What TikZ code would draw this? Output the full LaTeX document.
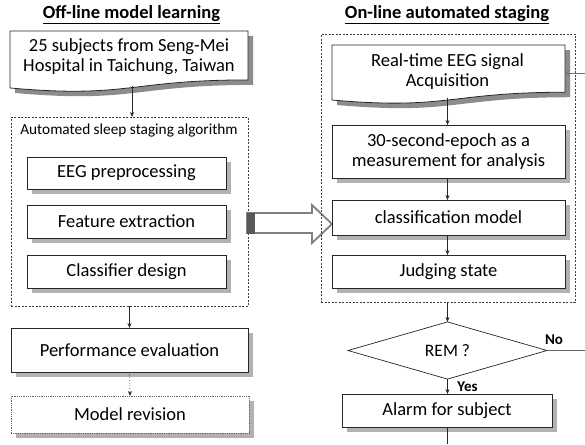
\documentclass[tikz,border=0pt]{standalone}
\usepackage{fontspec}
\setmainfont{Carlito}
\usetikzlibrary{shapes.geometric,arrows.meta,shadows}
\newcommand\mydocpath[4]{(#1,#3) -- (#2,#3) -- (#2,{#3+0.802*#4}) .. controls ({(#1+#2)/2},{#3+0.802*#4}) and ({(#1+#2)/2},{#3+1.107*#4}) .. (#1,{#3+0.934*#4}) -- cycle}
\begin{document}
\begin{tikzpicture}[x=1pt,y=-1pt,
  every node/.style={inner sep=0pt, outer sep=0pt},
  boxtext/.style={align=center, font=\fontsize{18.5}{20}\selectfont},
  box/.style={boxtext, draw=black!85, line width=0.8pt, fill=white,
    drop shadow={shadow xshift=5pt, shadow yshift=-5pt, fill=black!30, opacity=1}},
  dbox/.style={draw=black!75, line width=0.7pt, dash pattern=on 2pt off 1.5pt},
  arr/.style={-{Stealth[length=5pt,width=4pt]}, line width=0.7pt, draw=black!85},
  titletext/.style={font=\fontsize{18.5}{20}\selectfont\bfseries},
  lbl/.style={font=\fontsize{15}{17}\selectfont\bfseries}
]
\useasboundingbox (0,0) rectangle (585,444);

% ---------- left column ----------
\node[titletext] (t1) at (131.5,15) {\underline{Off-line model learning}};

\fill[black!45] [shift={(5,5)}] \mydocpath{10}{248}{31}{61};
\draw[black!85, line width=0.8pt, fill=white] \mydocpath{10}{248}{31}{61};
\node[boxtext, minimum width=238pt, minimum height=57pt] (src) at (129,59.5) {};
\node[boxtext] (srctext) at (129,57) {25 subjects from Seng-Mei\\Hospital in Taichung, Taiwan};

\node[dbox, minimum width=237pt, minimum height=189pt] (algo) at (129.5,211.5) {};
\node[font=\fontsize{15.3}{17}\selectfont] (algolbl) at (129,131) {Automated sleep staging algorithm};

\node[box, minimum width=199pt, minimum height=32pt] (eeg) at (126.5,173) {EEG preprocessing};
\node[box, minimum width=199pt, minimum height=33pt] (feat) at (126.5,221.5) {Feature extraction};
\node[box, minimum width=199pt, minimum height=33pt] (cls) at (126.5,271.5) {Classifier design};

\node[box, minimum width=237pt, minimum height=44pt] (perf) at (129.5,350) {Performance evaluation};
\node[box, draw=black!60, line width=0.6pt, dash pattern=on 1pt off 0.8pt, minimum width=238pt, minimum height=37pt] (rev) at (130,414.5) {Model revision};

\draw[arr] (src.south) ++(3,-2) coordinate (srcb) -- (srcb |- algo.north);
\draw[arr] (algo.south) -- (perf.north);
\draw[arr, dotted] (perf.south) -- (rev.north);

% ---------- big hollow arrow ----------
\draw[line width=1.8pt, draw=black!50, fill=white, line join=miter]
  (247,213) -- (312,213) -- (312,205) -- (332,224) -- (312,243) -- (312,233) -- (247,233) -- cycle;
\fill[black!65] (246.5,212.5) rectangle (255,233.5);

% ---------- right column ----------
\node[titletext] (t2) at (447,15) {\underline{On-line automated staging}};

\node[dbox, minimum width=254pt, minimum height=268pt] (online) at (448,168) {};

\fill[black!45] [shift={(5,5)}] \mydocpath{332}{565}{45}{58.9};
\draw[black!85, line width=0.8pt, fill=white] \mydocpath{332}{565}{45}{58.9};
\node[boxtext, minimum width=233pt, minimum height=54pt] (rt) at (448.5,72.5) {};
\node[boxtext] (rttext) at (447.5,72) {Real-time EEG signal\\Acquisition};

\node[box, minimum width=233pt, minimum height=53pt] (epoch) at (448.5,151.5) {30-second-epoch as a\\measurement for analysis};
\node[box, minimum width=233pt, minimum height=35pt] (cmod) at (448.5,217.5) {classification model};
\node[box, minimum width=233pt, minimum height=33pt] (judge) at (448.5,271.5) {Judging state};

\node[diamond, draw=black!85, line width=0.7pt, fill=white, minimum width=199pt, minimum height=45pt, font=\fontsize{17.5}{19}\selectfont] (rem) at (447.5,350.5) {REM ?};

\node[box, minimum width=210pt, minimum height=33pt] (alarm) at (447,410.5) {Alarm for subject};

\draw[arr] (rt.south) ++(-1,-2) coordinate (rtb) -- (rtb |- epoch.north);
\draw[arr] (epoch.south -| rtb) -- (cmod.north -| rtb);
\draw[arr] (cmod.south -| rtb) -- (judge.north -| rtb);
\draw[arr] (online.south -| rem.north) -- (rem.north);
\draw[arr] (rem.south) -- (rem.south |- alarm.north);
\node[lbl] (yes) at (467.5,387) {Yes};

\coordinate (noend) at (585,350.5);
\draw[line width=0.7pt, draw=black!60] (rem.east) -- (noend);
\node[lbl] (no) at (554,340) {No};

\coordinate (aend) at (447,444);
\draw[line width=0.7pt, draw=black!85] (alarm.south) -- (aend);

\coordinate (fbin) at (585,73);
\draw[-{Straight Barb[length=4pt,width=6pt]}, line width=0.7pt, draw=black!55] (fbin) -- (rt.east |- fbin);
\end{tikzpicture}
\end{document}
